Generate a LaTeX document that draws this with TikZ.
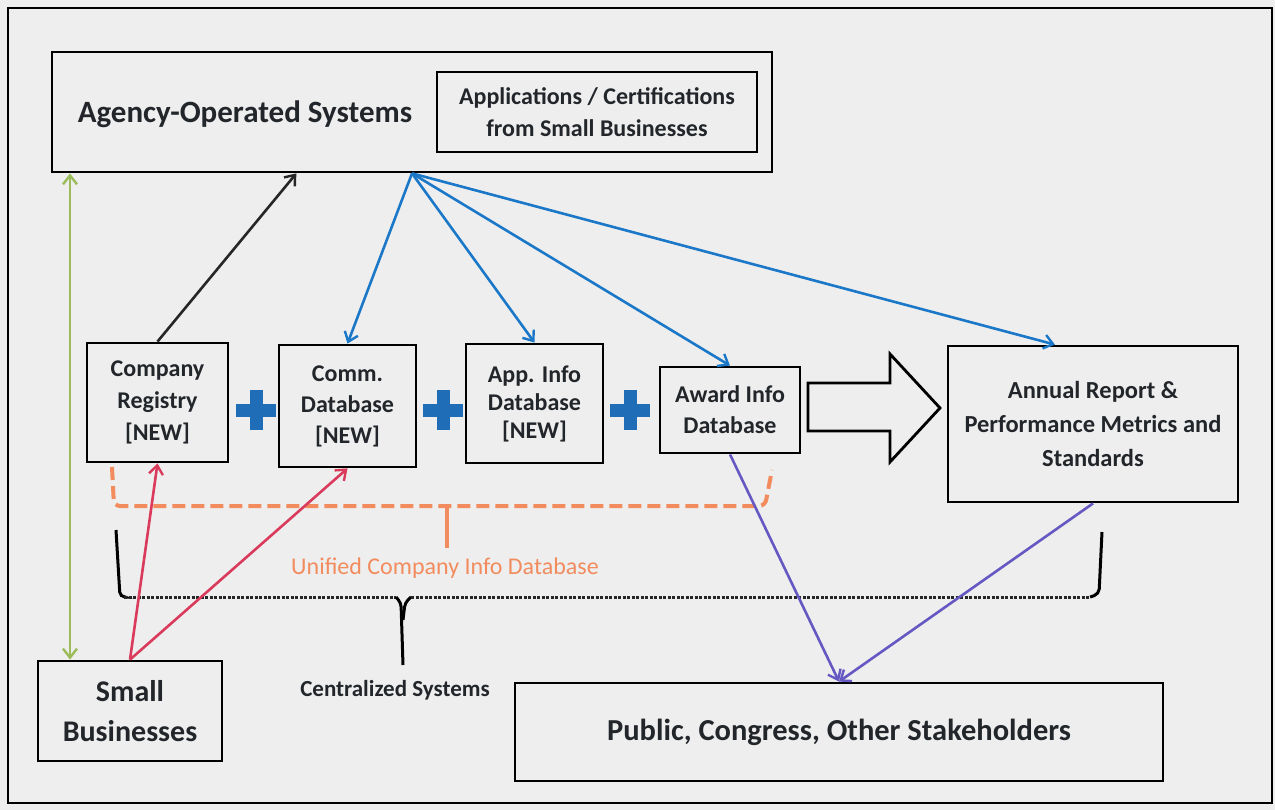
\documentclass[tikz,border=0pt]{standalone}
\usepackage{fontspec}
\setmainfont{Carlito}
\usetikzlibrary{arrows.meta,calc}
\definecolor{bg}{HTML}{EEEEEE}
\definecolor{txt}{HTML}{22262A}
\definecolor{blueA}{HTML}{1B78C8}
\definecolor{plusblue}{HTML}{1F6DB6}
\definecolor{redA}{HTML}{DA3A5C}
\definecolor{purpA}{HTML}{6658C2}
\definecolor{greenA}{HTML}{9CBB5A}
\definecolor{orangeA}{HTML}{F28C5E}
\tikzset{
  box/.style={draw=black, line width=2.8pt, inner sep=0pt, align=center, text=txt, font=\bfseries},
  lbl/.style={inner sep=0pt, align=center, text=txt, font=\bfseries},
  conn/.style={line width=2.6pt, -{Straight Barb[length=9pt,width=14pt,line width=2.4pt]}},
  dotline/.style={black!85, line width=3pt, dash pattern=on 3pt off 1.5pt},
  plussign/.style={minimum size=40pt, inner sep=0pt,
    path picture={
      \fill[plusblue] ($(path picture bounding box.west)+(0,6.5pt)$) rectangle ($(path picture bounding box.east)+(0,-6.5pt)$);
      \fill[plusblue] ($(path picture bounding box.north)+(-6.5pt,0)$) rectangle ($(path picture bounding box.south)+(6.5pt,0)$);
    }},
}
\begin{document}
\begin{tikzpicture}[x=1pt,y=-1pt]
\useasboundingbox (0,0) rectangle (1275,810);
\fill[bg] (0,0) rectangle (1275,810);
\draw[line width=2.5pt] (8,8) rectangle (1272,803);

% top system box
\node[box, minimum width=720pt, minimum height=120pt] (agency) at (412,112) {};
\node[lbl, font=\bfseries\fontsize{31}{32}\selectfont] (agencyt) at (245,114) {Agency-Operated Systems};
\node[box, minimum width=320pt, minimum height=80pt, font=\bfseries\fontsize{24}{32}\selectfont] (apps) at (597,112) {Applications / Certifications\\from Small Businesses};

% database row
\node[box, minimum width=141pt, minimum height=119pt, font=\bfseries\fontsize{24}{32}\selectfont] (reg) at (157.5,402.5) {Company\\Registry\\{[NEW]}};
\node[box, minimum width=137pt, minimum height=122pt, font=\bfseries\fontsize{24}{31}\selectfont] (comm) at (347.5,406) {Comm.\\Database\\{[NEW]}};
\node[box, minimum width=137pt, minimum height=119pt, font=\bfseries\fontsize{24}{28}\selectfont] (appinfo) at (534.5,403.5) {App. Info\\Database\\{[NEW]}};
\node[box, minimum width=140pt, minimum height=86pt, font=\bfseries\fontsize{24}{31}\selectfont] (award) at (730,410) {Award Info\\Database};
\node[box, minimum width=290pt, minimum height=156pt, font=\bfseries\fontsize{24.5}{34}\selectfont] (annual) at (1093,424) {Annual Report \&\\Performance Metrics and\\Standards};

\node[plussign] (p1) at (256,410) {};
\node[plussign] (p2) at (443,410) {};
\node[plussign] (p3) at (630,410) {};

% big hollow arrow
\draw[line width=2.8pt, line join=miter] (808,383) -- (890,383) -- (890,354) -- (940,408) -- (890,462) -- (890,431) -- (808,431) -- cycle;

% bottom boxes
\node[box, minimum width=184pt, minimum height=100pt, font=\bfseries\fontsize{30}{40}\selectfont] (small) at (130,711) {Small\\Businesses};
\node[box, minimum width=648pt, minimum height=98pt, font=\bfseries\fontsize{30.5}{32}\selectfont] (public) at (839,732) {Public, Congress, Other Stakeholders};

% braces
\draw[orangeA, line width=4pt, dash pattern=on 13pt off 6pt, rounded corners=6pt] (112,467) -- (114,506) -- (765,506) -- (772,470);
\draw[orangeA, line width=4pt] (447,506) -- (447,548);
\node[inner sep=0pt, text=orangeA, font=\fontsize{24}{26}\selectfont] (unified) at (445,568) {Unified Company Info Database};

\draw[black, line width=3pt, rounded corners=5pt] (116,530) -- (120,597) -- (124,597);
\draw[dotline] (124,597) -- (396,597);
\draw[black, line width=3pt, rounded corners=4pt] (396,597) -- (401,603) -- (403,665);
\draw[black, line width=3pt, rounded corners=4pt] (403,620) -- (405,603) -- (411,597);
\draw[dotline] (411,597) -- (1090,597);
\draw[black, line width=3pt, rounded corners=5pt] (1090,597) -- (1099,594) -- (1102,532);
\node[lbl, font=\bfseries\fontsize{23}{25}\selectfont] (central) at (395,690) {Centralized Systems};

% connectors
\draw[conn, black!85] (reg.north) -- ($(agency.south west)!0.34!(agency.south east)$);
\draw[conn, blueA] (agency.south) -- (comm.north);
\draw[conn, blueA] (agency.south) -- (appinfo.north);
\draw[conn, blueA] (agency.south) -- (award.north);
\draw[conn, blueA] (agency.south) -- ($(annual.north west)!0.37!(annual.north east)$);
\draw[conn, redA] (small.north) -- (reg.south);
\draw[conn, redA] (small.north) -- (comm.south);
\draw[conn, purpA] (award.south) -- (public.north);
\draw[conn, purpA] (annual.south) -- (public.north);
\coordinate (gx) at (70,0);
\draw[line width=2.6pt, greenA, {Straight Barb[length=9pt,width=14pt,line width=2.4pt]}-{Straight Barb[length=9pt,width=14pt,line width=2.4pt]}] (gx |- agency.south) -- (gx |- small.north);
\end{tikzpicture}
\end{document}
